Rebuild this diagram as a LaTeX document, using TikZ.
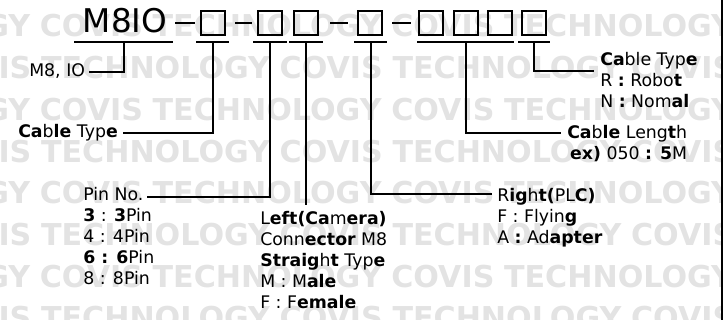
\documentclass[tikz,border=0pt]{standalone}
\usepackage{fontspec}
\setmainfont{DejaVu Sans}
\newcommand{\wmgap}{\hspace{7.25pt}}
\begin{document}
\begin{tikzpicture}[x=0.75pt,y=-0.75pt,
  bar/.style={line width=1.5pt},
  conn/.style={line width=1.5pt},
  cell/.style={draw,line width=1.5pt,minimum size=18pt,inner sep=0pt},
  lbl/.style={inner sep=0pt,anchor=base west,font=\fontsize{13}{15.75}\selectfont},
  wm/.style={inner sep=0pt,anchor=base west,text=black!11,font=\fontsize{22.6}{26}\selectfont\bfseries}]
  \useasboundingbox (0,0) rectangle (727,320);
  \begin{scope}
    \clip (0,0) rectangle (721,320);
    \foreach \r in {0,2,4,6}
      \node[wm] (wa\r) at (-199,37+41.7*\r) {TECHNOLOGY\wmgap COVIS\wmgap TECHNOLOGY\wmgap COVIS\wmgap TECHNOLOGY};
    \foreach \r in {1,3,5,7}
      \node[wm] (wb\r) at (-72,37+41.7*\r) {COVIS\wmgap TECHNOLOGY\wmgap COVIS\wmgap TECHNOLOGY\wmgap COVIS};
  \end{scope}
  \draw[line width=1.5pt] (722,0) -- (722,320);

  \node[inner sep=0pt,anchor=base,font=\fontsize{24.5}{28}\selectfont] (code) at (125,33) {M8IO};
  \node[cell] (b1) at (213,23) {};
  \node[cell] (b2) at (270,23) {};
  \node[cell] (b3) at (306,23) {};
  \node[cell] (b4) at (370,23) {};
  \node[cell] (b5) at (431,23) {};
  \node[cell] (b6) at (466,23) {};
  \node[cell] (b7) at (500,23) {};
  \node[cell] (b8) at (534,23) {};
  \draw[bar] (175,23) -- (195,23);
  \draw[bar] (235,23) -- (252,23);
  \draw[bar] (330,23) -- (348,23);
  \draw[bar] (392,23) -- (411,23);

  \draw[bar] (74,42) -- (173,42) coordinate[midway] (u0);
  \draw[bar] (196,42) -- (229,42) coordinate[midway] (u1);
  \draw[bar] (253,42) -- (287,42) coordinate[midway] (u2);
  \draw[bar] (289,42) -- (323,42) coordinate[midway] (u3);
  \draw[bar] (354,42) -- (387,42) coordinate[midway] (u4);
  \draw[bar] (417,42) -- (514,42) coordinate[midway] (u5);
  \draw[bar] (518,42) -- (550,42) coordinate[midway] (u8);

  \node[lbl] (m8) at (29,77) {M8, IO};
  \node[lbl] (ctl) at (18,138) {\textbf{Ca}b\textbf{le} Typ\textbf{e}};
  \node[lbl] (pinno) at (83,200) {Pin No.};
  \node[lbl] (pins) at (83,222) {\begin{tabular}[t]{@{}l@{}}
    \textbf{3} : \textbf{3}Pin\\
    4 : 4Pin\\
    \textbf{6 : 6}Pin\\
    8 : 8Pin
  \end{tabular}};
  \node[lbl] (cam) at (260,224) {\begin{tabular}[t]{@{}l@{}}
    L\textbf{eft(Ca}m\textbf{era)}\\
    Conn\textbf{ector} M8\\
    \textbf{Straig}h\textbf{t} Typ\textbf{e}\\
    M : M\textbf{ale}\\
    F : F\textbf{emale}
  \end{tabular}};
  \node[lbl] (plc) at (497,202) {\begin{tabular}[t]{@{}l@{}}
    R\textbf{ig}h\textbf{t(}PL\textbf{C)}\\
    F : Flyin\textbf{g}\\
    A \textbf{:} Ad\textbf{apter}
  \end{tabular}};
  \node[lbl] (len) at (567,139) {\begin{tabular}[t]{@{}l@{}}
    \textbf{Ca}b\textbf{le} Leng\textbf{t}h\\
    \,\textbf{ex)} 050 \textbf{: 5}M
  \end{tabular}};
  \node[lbl] (typ) at (600,66) {\begin{tabular}[t]{@{}l@{}}
    \textbf{Ca}ble Typ\textbf{e}\\
    R \textbf{:} Robo\textbf{t}\\
    N \textbf{:} Nom\textbf{al}
  \end{tabular}};
  \coordinate (camtop) at (306,205);

  \draw[conn] (u0) |- ([xshift=3pt,yshift=3.75pt]m8.base east);
  \draw[conn] (u1) |- ([xshift=3.75pt,yshift=3.75pt]ctl.base east);
  \draw[conn] (u2) |- ([xshift=2.25pt,yshift=2.25pt]pinno.base east);
  \draw[conn] (u3) -- (camtop);
  \draw[conn] (u4) |- ([xshift=-3.75pt,yshift=6pt]plc.base west);
  \draw[conn] (u5) |- ([xshift=-4.5pt,yshift=4.5pt]len.base west);
  \draw[conn] (u8) |- ([xshift=-4.5pt,yshift=-3.75pt]typ.base west);
\end{tikzpicture}
\end{document}
